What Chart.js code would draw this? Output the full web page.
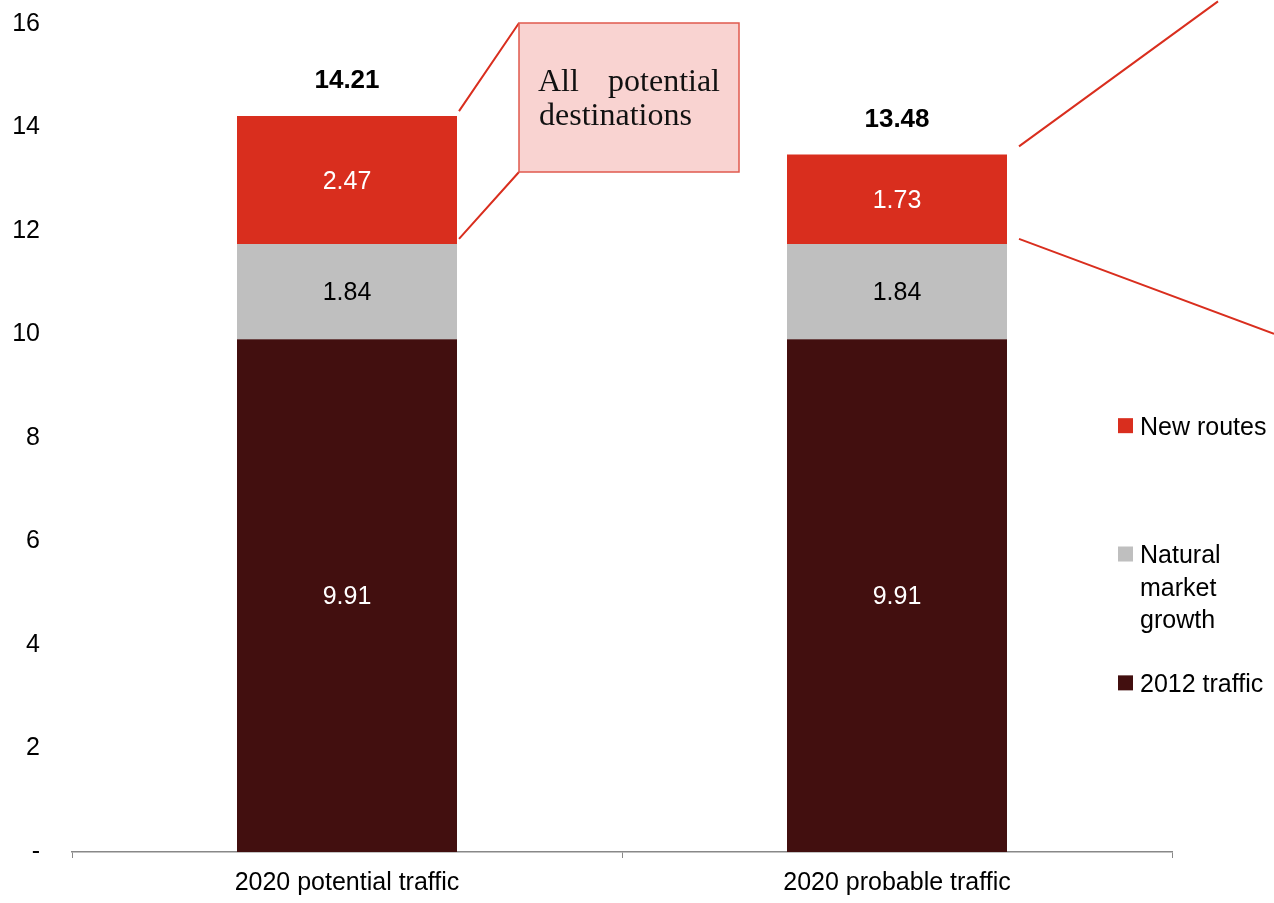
<!DOCTYPE html>
<html>
<head>
<meta charset="utf-8">
<script src="https://cdn.jsdelivr.net/npm/chart.js@4/dist/chart.umd.min.js"></script>
<style>
html, body { margin: 0; padding: 0; background: #fff; }
#wrap { width: 1274px; height: 903px; position: relative; }
</style>
</head>
<body>
<div id="wrap"><canvas id="trafficChart"></canvas></div>
<script>
// data
const categories = ['2020 potential traffic', '2020 probable traffic'];
const traffic2012 = [9.91, 9.91];
const naturalGrowth = [1.84, 1.84];
const newRoutes = [2.47, 1.73];
const totals = [14.21, 13.48];
const yTicks = [0, 2, 4, 6, 8, 10, 12, 14, 16];
const legendNames = ['New routes', ['Natural', 'market', 'growth'], '2012 traffic'];
const calloutText = ['All potential', 'destinations'];

const RED = '#d92e1e';
const GREY = '#bfbfbf';
const DARK = '#420f0f';
const FONT = '"Liberation Sans", Arial, sans-serif';

// labels, totals, callouts and the side legend
const overlayPlugin = {
  id: 'overlay',
  afterDatasetsDraw(chart) {
    const ctx = chart.ctx;
    const area = chart.chartArea;
    const segColors = ['#fff', '#000', '#fff'];

    ctx.save();
    ctx.textAlign = 'center';
    ctx.textBaseline = 'middle';
    chart.data.datasets.forEach((ds, di) => {
      const meta = chart.getDatasetMeta(di);
      meta.data.forEach((bar, i) => {
        ctx.font = '25px ' + FONT;
        ctx.fillStyle = segColors[di];
        ctx.fillText(ds.data[i].toFixed(2), bar.x, (bar.y + bar.base) / 2 + 2);
      });
    });

    // totals above the bars
    const top = chart.getDatasetMeta(2);
    top.data.forEach((bar, i) => {
      ctx.font = 'bold 26px ' + FONT;
      ctx.fillStyle = '#000';
      ctx.fillText(totals[i].toFixed(2), bar.x, bar.y - 35);
    });

    // callout for the first bar
    const b0 = top.data[0];
    const r0 = b0.x + b0.width / 2;
    const boxL = r0 + 62, boxT = area.top - 1, boxR = boxL + 220, boxB = boxT + 149;
    ctx.strokeStyle = RED;
    ctx.lineWidth = 2;
    ctx.beginPath();
    ctx.moveTo(r0 + 2, b0.y - 5);
    ctx.lineTo(boxL, boxT);
    ctx.moveTo(r0 + 2, b0.base - 5);
    ctx.lineTo(boxL, boxB);
    ctx.stroke();
    ctx.fillStyle = '#f9d3d1';
    ctx.fillRect(boxL, boxT, boxR - boxL, boxB - boxT);
    ctx.strokeStyle = '#e05a4e';
    ctx.lineWidth = 1.5;
    ctx.strokeRect(boxL, boxT, boxR - boxL, boxB - boxT);
    ctx.fillStyle = '#111';
    ctx.font = '32px "Liberation Serif", "Times New Roman", serif';
    ctx.textBaseline = 'alphabetic';
    const words = calloutText[0].split(' ');
    ctx.textAlign = 'left';
    ctx.fillText(words[0], boxL + 19, boxT + 68);
    ctx.textAlign = 'right';
    ctx.fillText(words[1], boxR - 19, boxT + 68);
    ctx.textAlign = 'left';
    ctx.fillText(calloutText[1], boxL + 20, boxT + 102);

    // callout for the second bar (runs off the page)
    const b1 = top.data[1];
    const r1 = b1.x + b1.width / 2;
    ctx.strokeStyle = RED;
    ctx.lineWidth = 2;
    ctx.beginPath();
    ctx.moveTo(r1 + 12, b1.y - 8);
    ctx.lineTo(r1 + 211, b1.y - 153);
    ctx.moveTo(r1 + 12, b1.base - 5);
    ctx.lineTo(chart.width, b1.base + 90);
    ctx.stroke();

    // legend at the right
    const lx = area.right - 54;
    const yScale = chart.scales.y;
    const rows = [
      { color: RED, y: yScale.getPixelForValue(8.19) },
      { color: GREY, y: yScale.getPixelForValue(5.71) },
      { color: DARK, y: yScale.getPixelForValue(3.22) }
    ];
    ctx.font = '25px ' + FONT;
    ctx.textBaseline = 'middle';
    ctx.textAlign = 'left';
    rows.forEach((row, i) => {
      ctx.fillStyle = row.color;
      ctx.fillRect(lx, row.y - 10, 15, 15);
      ctx.fillStyle = '#000';
      const lines = Array.isArray(legendNames[i]) ? legendNames[i] : [legendNames[i]];
      lines.forEach((t, k) => ctx.fillText(t, lx + 22, row.y + k * 32.5));
    });
    ctx.restore();
  }
};

const ctx = document.getElementById('trafficChart').getContext('2d');
new Chart(ctx, {
  type: 'bar',
  data: {
    labels: categories,
    datasets: [
      { label: '2012 traffic', data: traffic2012, backgroundColor: DARK },
      { label: 'Natural market growth', data: naturalGrowth, backgroundColor: GREY },
      { label: 'New routes', data: newRoutes, backgroundColor: RED }
    ]
  },
  options: {
    responsive: true,
    maintainAspectRatio: false,
    animation: false,
    datasets: { bar: { barPercentage: 0.4, categoryPercentage: 1 } },
    layout: { padding: { top: 24, right: 102, left: 0, bottom: 0 } },
    plugins: { legend: { display: false }, tooltip: { enabled: false } },
    scales: {
      x: {
        stacked: true,
        afterFit: s => { s.height = 51; s.paddingLeft = 0; s.paddingRight = 0; },
        grid: { display: true, drawOnChartArea: false, tickLength: 6, color: '#888', offset: true },
        border: { display: true, color: '#888', width: 1.5 },
        ticks: { color: '#000', font: { family: FONT, size: 25 }, padding: 10, maxRotation: 0 }
      },
      y: {
        stacked: true,
        min: 0,
        max: 16,
        afterFit: s => { s.width = 72; s.paddingTop = 0; s.paddingBottom = 0; },
        afterBuildTicks: s => { s.ticks = yTicks.map(v => ({ value: v })); },
        grid: { display: false, drawTicks: false },
        border: { display: false },
        ticks: {
          color: '#000',
          padding: 32,
          font: { family: FONT, size: 25 },
          callback: v => v === 0 ? '-' : v
        }
      }
    }
  },
  plugins: [overlayPlugin]
});
</script>
</body>
</html>
